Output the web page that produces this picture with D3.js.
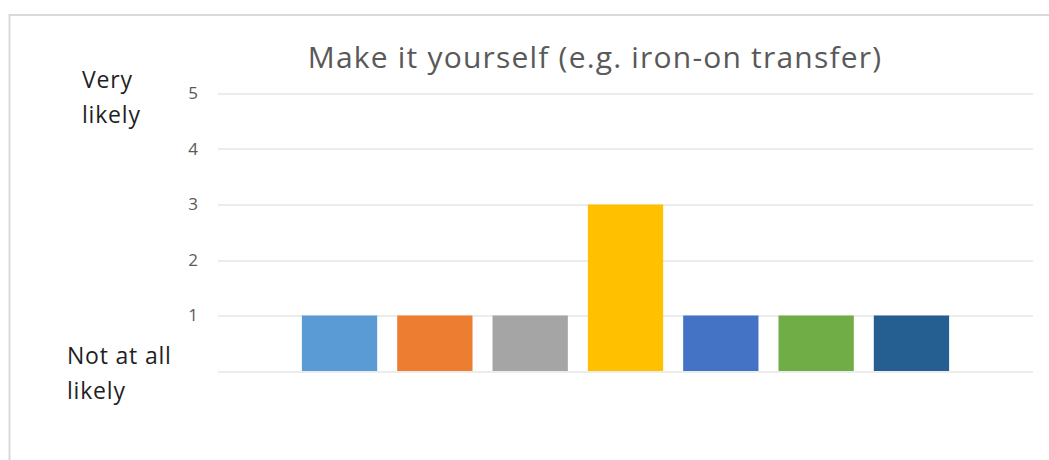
<!DOCTYPE html>
<html>
<head>
<meta charset="utf-8">
<script src="https://cdn.jsdelivr.net/npm/d3@7"></script>
<style>
  body { margin: 0; background: #fff; }
</style>
</head>
<body>
<div id="wrapper"></div>
<script>
// data
const title = "Make it yourself (e.g. iron-on transfer)"
const seriesNames = ["Option 1", "Option 2", "Option 3", "Option 4", "Option 5", "Option 6", "Option 7"]
const seriesValues = [1, 1, 1, 3, 1, 1, 1]
const seriesColors = ["#5b9bd5", "#ed7d31", "#a5a5a5", "#ffc000", "#4472c4", "#70ad47", "#255e91"]
const yTicks = [1, 2, 3, 4, 5]
const topLabel = ["Very", "likely"]
const bottomLabel = ["Not at all", "likely"]

function drawChart() {

  // dimensions
  let dimensions = {
    width: 1049,
    height: 460,
    margin: { top: 93.5, right: 16, bottom: 89, left: 218 },
  }
  dimensions.boundedWidth = dimensions.width - dimensions.margin.left - dimensions.margin.right
  dimensions.boundedHeight = dimensions.height - dimensions.margin.top - dimensions.margin.bottom

  const fontFamily = "'Open Sans', sans-serif"

  const wrapper = d3.select("#wrapper")
    .append("svg")
      .attr("width", dimensions.width)
      .attr("height", dimensions.height)

  // chart border
  wrapper.append("rect")
      .attr("x", 9.5)
      .attr("y", 15)
      .attr("width", dimensions.width + 20)
      .attr("height", dimensions.height + 20)
      .attr("fill", "none")
      .attr("stroke", "#d9d9d9")
      .attr("stroke-width", 2)

  const bounds = wrapper.append("g")
      .attr("transform", `translate(${dimensions.margin.left}, ${dimensions.margin.top})`)

  // scales
  const xScale = d3.scaleBand()
    .domain(seriesNames)
    .range([0, dimensions.boundedWidth])
    .paddingInner(0.21)
    .paddingOuter(0.88)

  const yScale = d3.scaleLinear()
    .domain([0, 5])
    .range([dimensions.boundedHeight, 0])

  // gridlines
  bounds.append("g")
    .selectAll("line")
    .data([0, ...yTicks])
    .join("line")
      .attr("x1", 0)
      .attr("x2", dimensions.boundedWidth)
      .attr("y1", d => Math.round(yScale(d)) + 0.5)
      .attr("y2", d => Math.round(yScale(d)) + 0.5)
      .attr("stroke", "#d9d9d9")
      .attr("stroke-width", 1)

  // y axis labels
  const yAxisGenerator = d3.axisLeft(yScale)
    .tickValues(yTicks)
    .tickFormat(d3.format("d"))
    .tickSize(0)
    .tickPadding(20)
  const yAxis = bounds.append("g").call(yAxisGenerator)
  yAxis.select(".domain").remove()
  yAxis.selectAll("text")
      .attr("fill", "#595959")
      .style("font-family", fontFamily)
      .style("font-size", "17px")

  // bars
  bounds.append("g")
    .selectAll("rect")
    .data(seriesValues)
    .join("rect")
      .attr("x", (d, i) => xScale(seriesNames[i]))
      .attr("y", d => yScale(d))
      .attr("width", xScale.bandwidth())
      .attr("height", d => dimensions.boundedHeight - yScale(d))
      .attr("fill", (d, i) => seriesColors[i])

  // title
  wrapper.append("text")
      .attr("x", 595)
      .attr("y", 68)
      .attr("text-anchor", "middle")
      .attr("fill", "#595959")
      .style("font-family", fontFamily)
      .style("font-size", "30px")
      .style("letter-spacing", "1.2px")
      .text(title)

  // side labels
  const drawLines = (lines, x, y) => {
    wrapper.append("text")
      .attr("x", x)
      .attr("y", y)
      .attr("fill", "#1f1f1f")
      .style("font-family", fontFamily)
      .style("font-size", "23px")
      .style("letter-spacing", "0.8px")
      .selectAll("tspan")
      .data(lines)
      .join("tspan")
        .attr("x", x)
        .attr("dy", (d, i) => i ? 35 : 0)
        .text(d => d)
  }
  drawLines(topLabel, 82, 88)
  drawLines(bottomLabel, 67, 364)
}
drawChart()
</script>
</body>
</html>
